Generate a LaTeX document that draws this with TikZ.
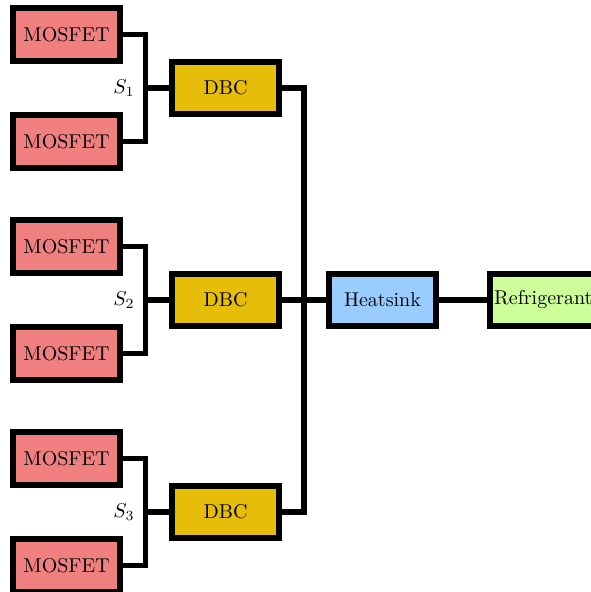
\documentclass[tikz,border=0pt]{standalone}
\usepackage{tikz}
\definecolor{mosred}{RGB}{240,128,128}
\definecolor{dbcyellow}{RGB}{230,190,10}
\definecolor{sinkblue}{RGB}{153,204,255}
\definecolor{refgreen}{RGB}{204,255,153}
\tikzset{
  block/.style={draw=black, line width=3pt, minimum width=53.25pt,
    minimum height=26.5pt, inner sep=0pt, font=\normalsize},
  mosbox/.style={block, fill=mosred},
  dbcbox/.style={block, fill=dbcyellow, minimum height=26pt},
  sinkbox/.style={block, fill=sinkblue, minimum height=26pt},
  refbox/.style={block, fill=refgreen, minimum height=26pt},
  wire/.style={draw=black, line width=2.6pt}
}
\begin{document}
\begin{tikzpicture}[x=0.5pt, y=-0.5pt]
  \useasboundingbox (0,0) rectangle (590,592);

  % MOSFET pairs
  \node[mosbox] (m1) at (66.5,34.5)  {MOSFET};
  \node[mosbox] (m2) at (66.5,141.5) {MOSFET};
  \node[mosbox] (m3) at (66.5,246.5) {MOSFET};
  \node[mosbox] (m4) at (66.5,353.5) {MOSFET};
  \node[mosbox] (m5) at (66.5,458.5) {MOSFET};
  \node[mosbox] (m6) at (66.5,565.5) {MOSFET};

  % substrates
  \node[dbcbox] (d1) at (225.5,88)  {DBC};
  \node[dbcbox] (d2) at (225.5,300) {DBC};
  \node[dbcbox] (d3) at (225.5,512) {DBC};

  % heatsink and coolant
  \node[sinkbox] (hs) at (382.5,300) {Heatsink};
  \node[refbox] (rf) at (543.25,300) {\makebox[0pt]{Refrigerant}};

  % junction points
  \coordinate (j1) at (145.5,88);
  \coordinate (j2) at (145.5,300);
  \coordinate (j3) at (145.5,512);
  \coordinate (jh) at (304,300);

  % switch labels
  \node (s1) at (124,88)  {$S_1$};
  \node (s2) at (124,300) {$S_2$};
  \node (s3) at (124,512) {$S_3$};

  % MOSFETs to DBC
  \draw[wire] (m1.east) -| (j1) |- (m2.east);
  \draw[wire] (j1) -- (d1.west);
  \draw[wire] (m3.east) -| (j2) |- (m4.east);
  \draw[wire] (j2) -- (d2.west);
  \draw[wire] (m5.east) -| (j3) |- (m6.east);
  \draw[wire] (j3) -- (d3.west);

  % DBCs to heatsink
  \draw[wire] (d1.east) -| (jh) |- (d3.east);
  \draw[wire] (d2.east) -- (hs.west);
  \draw[wire] (hs.east) -- (rf.west);
\end{tikzpicture}
\end{document}
